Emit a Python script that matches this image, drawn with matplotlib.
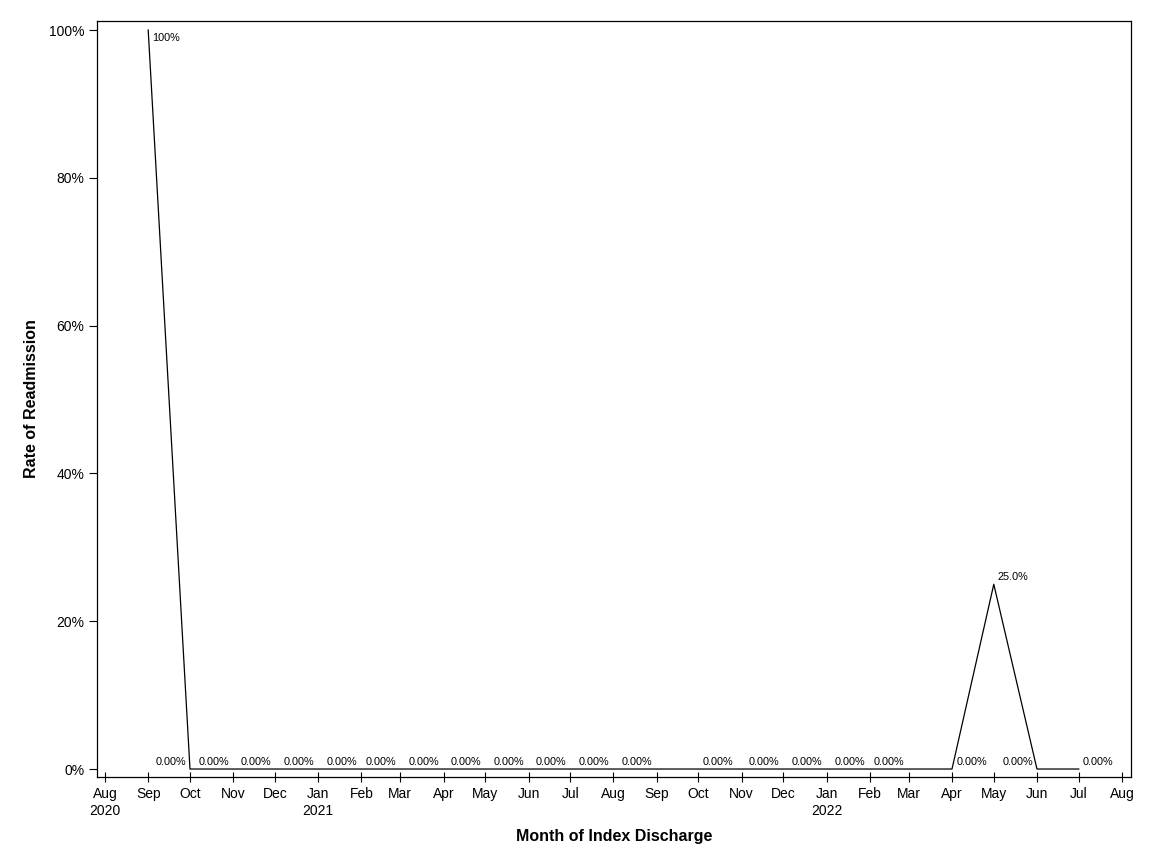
import matplotlib
matplotlib.use("Agg")
import matplotlib.pyplot as plt
import matplotlib.dates as mdates
from matplotlib.ticker import FuncFormatter, MultipleLocator
import datetime as dt

plt.rcParams['font.family'] = ['Liberation Sans', 'DejaVu Sans']

# ---- data ----
months = ["2020-09", "2020-10", "2020-11", "2020-12", "2021-01", "2021-02",
          "2021-03", "2021-04", "2021-05", "2021-06", "2021-07", "2021-08",
          "2021-09", "2021-10", "2021-12", "2022-01", "2022-02", "2022-03",
          "2022-04", "2022-05", "2022-06", "2022-07"]
rates = [1.00, 0.0, 0.0, 0.0, 0.0, 0.0,
         0.0, 0.0, 0.0, 0.0, 0.0, 0.0,
         0.0, 0.0, 0.0, 0.0, 0.0, 0.0,
         0.0, 0.25, 0.0, 0.0]
point_labels = ["100%", "0.00%", "0.00%", "0.00%", "0.00%", "0.00%",
                "0.00%", "0.00%", "0.00%", "0.00%", "0.00%", "0.00%",
                "0.00%", "0.00%", "0.00%", "0.00%", "0.00%", "0.00%",
                "0.00%", "25.0%", "0.00%", "0.00%"]
# label placement (style)
placement = ["rt", "l", "l", "l", "l", "l",
             "l", "l", "l", "l", "l", "l",
             "l", "r", "l", "l", "l", "l",
             "r", "r", "l", "r"]

x_title = "Month of Index Discharge"
y_title = "Rate of Readmission"

dates = [dt.datetime.strptime(m, "%Y-%m") for m in months]

fig = plt.figure(figsize=(11.52, 8.64), dpi=100)
ax = fig.add_axes([97/1152, 1 - 777/864, (1131-97)/1152, (777-21)/864])

ax.plot(dates, rates, color='black', linewidth=0.9)

fs_lab = 7.8
for d, v, lab, p in zip(dates, rates, point_labels, placement):
    if p == "l":
        ax.annotate(lab, (d, v), xytext=(-3, 1.5), textcoords='offset points',
                    ha='right', va='bottom', fontsize=fs_lab)
    elif p == "r":
        ax.annotate(lab, (d, v), xytext=(3, 1.5), textcoords='offset points',
                    ha='left', va='bottom', fontsize=fs_lab)
    else:
        ax.annotate(lab, (d, v), xytext=(3, -2), textcoords='offset points',
                    ha='left', va='top', fontsize=fs_lab)

# axes limits
ax.set_xlim(dt.datetime(2020, 7, 26, 6), dt.datetime(2022, 8, 7, 12))
ax.set_ylim(-0.0108, 1.0122)

ax.yaxis.set_major_locator(MultipleLocator(0.2))
ax.yaxis.set_major_formatter(FuncFormatter(lambda v, p: f"{v*100:.0f}%"))

ax.xaxis.set_major_locator(mdates.MonthLocator())
def fmt(x, pos):
    d = mdates.num2date(x)
    s = d.strftime("%b")
    if (d.year == 2020 and d.month == 8) or d.month == 1:
        s += "\n" + str(d.year)
    return s
ax.xaxis.set_major_formatter(FuncFormatter(fmt))

ax.tick_params(axis='x', direction='inout', length=7, width=0.8, labelsize=10, pad=4)
ax.tick_params(axis='y', direction='out', length=6, width=0.8, labelsize=10, pad=3)
for lab in ax.get_xticklabels():
    lab.set_horizontalalignment('center')
for s in ax.spines.values():
    s.set_linewidth(0.9)

ax.set_xlabel(x_title, fontsize=11.5, fontweight='bold', labelpad=8)
ax.set_ylabel(y_title, fontsize=11.5, fontweight='bold', labelpad=7)

fig.savefig("out.png", dpi=100)
